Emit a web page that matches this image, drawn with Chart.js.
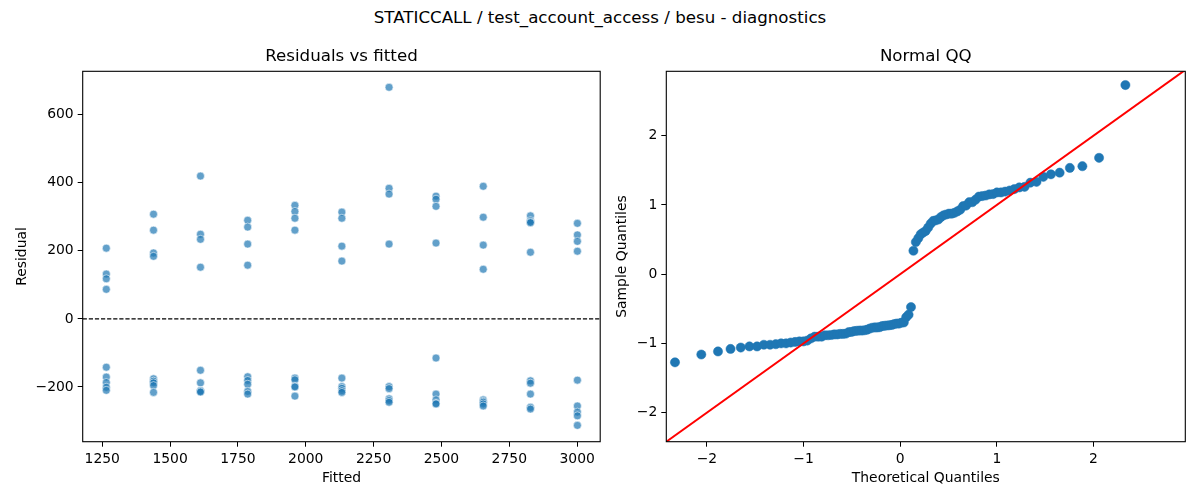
<!DOCTYPE html>
<html>
<head>
<meta charset="utf-8">
<script src="https://cdn.jsdelivr.net/npm/chart.js@4.4.0/dist/chart.umd.min.js"></script>
<style>
  html, body { margin: 0; padding: 0; background: #fff; }
  #fig { position: relative; width: 1200px; height: 500px; font-family: 'DejaVu Sans', sans-serif; }
  #suptitle { position: absolute; left: 0; top: 8px; width: 1200px; line-height: 20px; text-align: center; font-size: 16.67px; color: #000; }
  .panel { position: absolute; top: 0; height: 500px; }
</style>
</head>
<body>
<div id="fig">
  <div id="suptitle">STATICCALL / test_account_access / besu - diagnostics</div>
  <div class="panel" style="left:0;width:605px"><canvas id="resid-chart"></canvas></div>
  <div class="panel" style="left:605px;width:595px"><canvas id="qq-chart"></canvas></div>
</div>
<script>
// fitted value of each group
var fitted = [1265, 1439, 1612, 1786, 1960, 2133, 2307, 2480, 2654, 2828, 3001]

// residuals of each fitted group, same order as `fitted`
var residuals = [
  [208, 132, 118, 87, -142, -171, -187, -201, -210],
  [308, 261, 194, 184, -176, -183, -188, -196, -216],
  [420, 249, 234, 152, -151, -188, -211, -213, -215],
  [290, 270, 220, 158, -170, -181, -192, -213, -221],
  [334, 316, 296, 261, -174, -179, -198, -200, -227],
  [314, 296, 214, 170, -174, -199, -204, -211, -216],
  [681, 384, 367, 220, -199, -205, -235, -240, -245],
  [361, 352, 331, 223, -115, -221, -238, -248, -250],
  [390, 299, 217, 146, -238, -242, -245, -250, -256],
  [303, 289, 285, 283, 196, -182, -189, -221, -260, -265],
  [281, 247, 228, 199, -180, -256, -274, -285, -313]
]

var residXTicks = [1250, 1500, 1750, 2000, 2250, 2500, 2750, 3000]
var residYTicks = [-200, 0, 200, 400, 600]
var residXRange = [1178, 3085]
var residYRange = [-361, 728]

var qqTicks = [-2, -1, 0, 1, 2]
var qqXRange = [-2.42, 2.95]
var qqYRange = [-2.42, 2.93]

var FONT = 'DejaVu Sans'

// inverse of the standard normal cdf (Acklam)
function normInv (p) {
  var a = [-3.969683028665376e+01, 2.209460984245205e+02, -2.759285104469687e+02, 1.383577518672690e+02, -3.066479806614716e+01, 2.506628277459239e+00]
  var b = [-5.447609879822406e+01, 1.615858368580409e+02, -1.556989798598866e+02, 6.680131188771972e+01, -1.328068155288572e+01]
  var c = [-7.784894002430293e-03, -3.223964580411365e-01, -2.400758277161838e+00, -2.549732539343734e+00, 4.374664141464968e+00, 2.938163982698783e+00]
  var d = [7.784695709041462e-03, 3.224671290700398e-01, 2.445134137142996e+00, 3.754408661907416e+00]
  var q, r
  if (p < 0.02425 || p > 1 - 0.02425) {
    q = Math.sqrt(-2 * Math.log(p < 0.5 ? p : 1 - p))
    r = (((((c[0] * q + c[1]) * q + c[2]) * q + c[3]) * q + c[4]) * q + c[5]) /
      ((((d[0] * q + d[1]) * q + d[2]) * q + d[3]) * q + 1)
    return p < 0.5 ? r : -r
  }
  q = p - 0.5
  r = q * q
  return (((((a[0] * r + a[1]) * r + a[2]) * r + a[3]) * r + a[4]) * r + a[5]) * q /
    (((((b[0] * r + b[1]) * r + b[2]) * r + b[3]) * r + b[4]) * r + 1)
}

// scatter points for the left panel
var residPoints = []
fitted.forEach(function (f, i) {
  residuals[i].forEach(function (r) { residPoints.push({ x: f, y: r }) })
})

// normal QQ of the same residuals: standardised, sorted, against i/(n+1) scores
var allResid = residPoints.map(function (p) { return p.y }).sort(function (a, b) { return a - b })
var n = allResid.length
var mean = allResid.reduce(function (s, v) { return s + v }, 0) / n
var sd = Math.sqrt(allResid.reduce(function (s, v) { return s + (v - mean) * (v - mean) }, 0) / n)
var qqPoints = allResid.map(function (v, i) {
  return { x: normInv((i + 1) / (n + 1)), y: (v - mean) / sd }
})

function minus (v) { return String(v).replace('-', '\u2212') }

var framePlugin = {
  id: 'frame',
  afterDatasetsDraw: function (chart) {
    var a = chart.chartArea
    var ctx = chart.ctx
    ctx.save()
    ctx.strokeStyle = '#000'
    ctx.lineWidth = 1.1
    ctx.strokeRect(a.left, a.top, a.right - a.left, a.bottom - a.top)
    ctx.restore()
  }
}

function axis (range, ticks, title, titlePad, size) {
  return {
    type: 'linear',
    min: range[0],
    max: range[1],
    afterBuildTicks: function (s) { s.ticks = ticks.map(function (v) { return { value: v } }) },
    afterFit: function (s) {
      if (s.isHorizontal()) s.height = size
      else s.width = size
    },
    grid: { display: true, drawOnChartArea: false, drawTicks: true, tickLength: 5, color: '#000', lineWidth: 1 },
    border: { display: false },
    ticks: {
      color: '#000',
      font: { family: FONT, size: 13.9 },
      padding: 4,
      maxRotation: 0,
      autoSkip: false,
      callback: function (v) { return minus(v) }
    },
    title: {
      display: true,
      text: title,
      color: '#000',
      font: { family: FONT, size: 13.9 },
      padding: titlePad
    }
  }
}

function chartTitle (text) {
  return {
    display: true,
    text: text,
    color: '#000',
    fullSize: false,
    font: { family: FONT, size: 16.67, weight: 'normal' },
    padding: { top: 46.7, bottom: 4.6 }
  }
}

Chart.defaults.animation = false

var residChart = new Chart(document.getElementById('resid-chart'), {
  type: 'scatter',
  data: {
    datasets: [
      {
        type: 'line',
        data: residXRange.map(function (x) { return { x: x, y: 0 } }),
        borderColor: '#000',
        borderWidth: 1.1,
        borderDash: [4.2, 1.9],
        pointRadius: 0
      },
      {
        data: residPoints,
        backgroundColor: 'rgba(31,119,180,0.7)',
        borderColor: 'rgba(255,255,255,0.7)',
        borderWidth: 0.8,
        pointRadius: 4
      }
    ]
  },
  options: {
    responsive: true,
    maintainAspectRatio: false,
    layout: { padding: { left: 0, right: 3.7, top: 0, bottom: 0 } },
    plugins: { legend: { display: false }, tooltip: { enabled: false }, title: chartTitle('Residuals vs fitted') },
    scales: {
      x: axis(residXRange, residXTicks, 'Fitted', { top: 0, bottom: 13.2 }, 58.3),
      y: axis(residYRange, residYTicks, 'Residual', { top: 13.6, bottom: 0 }, 82.7)
    }
  },
  plugins: [framePlugin]
})

var qqChart = new Chart(document.getElementById('qq-chart'), {
  type: 'scatter',
  data: {
    datasets: [
      {
        type: 'line',
        data: qqXRange.map(function (v) { return { x: v, y: v } }),
        borderColor: '#ff0000',
        borderWidth: 2,
        pointRadius: 0
      },
      {
        data: qqPoints,
        backgroundColor: '#1f77b4',
        borderColor: '#1f77b4',
        borderWidth: 0.5,
        pointRadius: 4.6
      }
    ]
  },
  options: {
    responsive: true,
    maintainAspectRatio: false,
    layout: { padding: { left: 0, right: 14.7, top: 0, bottom: 0 } },
    plugins: { legend: { display: false }, tooltip: { enabled: false }, title: chartTitle('Normal QQ') },
    scales: {
      x: axis(qqXRange, qqTicks, 'Theoretical Quantiles', { top: 0, bottom: 12.9 }, 58.3),
      y: axis(qqYRange, qqTicks, 'Sample Quantiles', { top: 8.6, bottom: 0 }, 61.3)
    }
  },
  plugins: [framePlugin]
})
</script>
</body>
</html>
